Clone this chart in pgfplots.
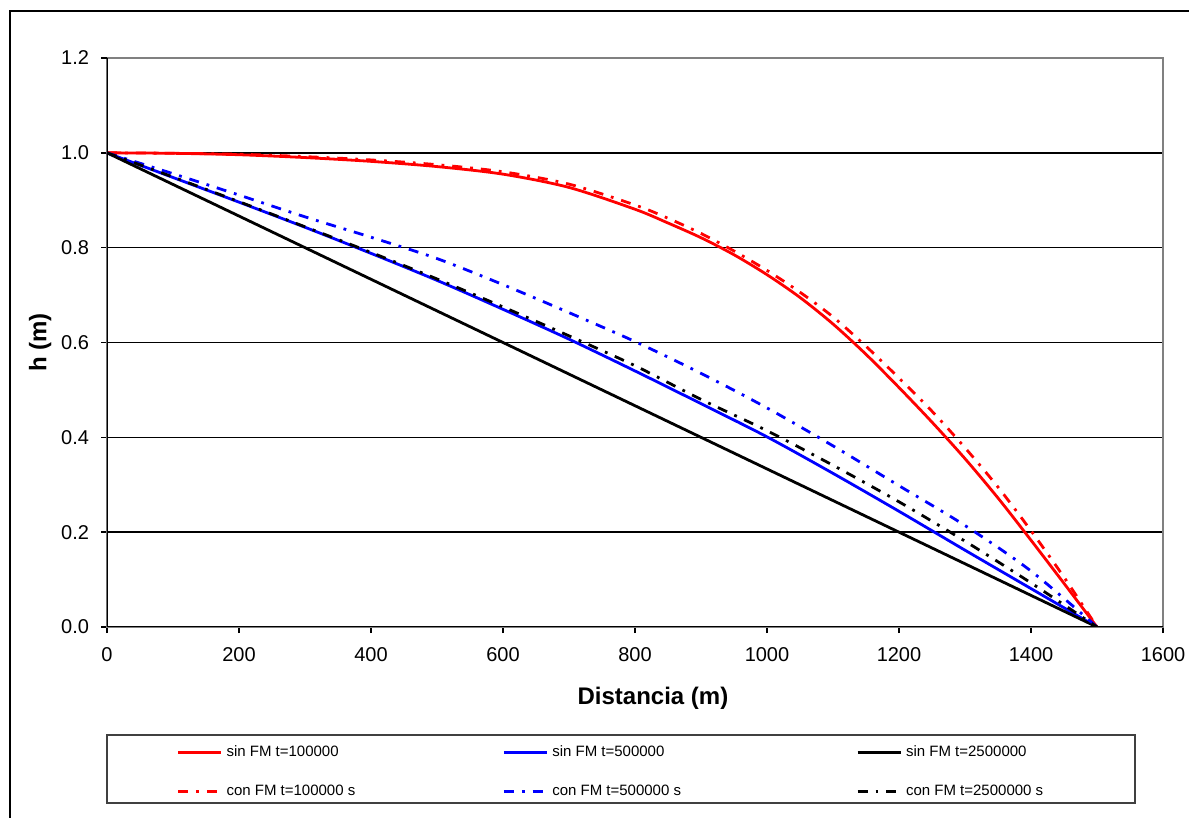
\documentclass[border=0pt]{standalone}
\usepackage{fontspec}
\setmainfont{Liberation Sans}
\usepackage{pgfplots}
\pgfplotsset{compat=1.18}
\pgfplotsset{dd/.style={dash pattern=on 5bp off 4bp on 1.4bp off 4bp}}
\newcommand{\colA}[1]{\makebox[136bp][l]{#1}}
\newcommand{\colB}[1]{\makebox[150bp][l]{#1}}

\begin{document}
\begin{tikzpicture}
\useasboundingbox (0,0) rectangle (594.5bp,409bp);
\draw[line width=1.25bp] (5bp,-2bp) -- (5bp,403.5bp) -- (597bp,403.5bp);
\begin{axis}[
  at={(53.5bp,95.5bp)}, anchor=south west,
  scale only axis, width=528bp, height=284.5bp,
  xmin=0, xmax=1600, ymin=0, ymax=1.2,
  xtick={0,200,...,1600},
  ytick={0,0.2,0.4,0.6,0.8,1.0},
  yticklabels={0.0,0.2,0.4,0.6,0.8,1.0},
  extra y ticks={1.2}, extra y tick labels={1.2},
  extra y tick style={grid=none},
  ymajorgrids, major grid style={black, line width=0.7bp},
  tick align=outside, major tick length=3bp,
  xtick pos=left, ytick pos=left,
  tick style={black, line width=0.7bp},
  axis line style={gray, line width=0.8bp},
  /pgf/number format/1000 sep={},
  /pgf/number format/assume math mode=true,
  tick label style={font=\fontsize{10bp}{12bp}\selectfont},
  yticklabel style={xshift=-2.5bp},
  xticklabel style={yshift=-3.5bp},
  xlabel={Distancia (m)}, ylabel={h (m)},
  xlabel style={font=\fontsize{12bp}{14bp}\selectfont\bfseries,
    at={(axis description cs:0.517,-0.125)}, anchor=center},
  ylabel style={font=\fontsize{12bp}{14bp}\selectfont\bfseries,
    at={(axis description cs:-0.0634,0.5)}, anchor=center},
  legend columns=3, legend cell align=left,
  legend style={draw=none, fill=none, at={(0.4782,-0.2549)}, anchor=center,
    font=\fontsize{7.5bp}{9bp}\selectfont, row sep=8.5bp,
    /tikz/every even column/.append style={column sep=0bp}},
  legend image code/.code={\draw[#1] (0bp,0bp) -- (21.5bp,0bp);},
  every axis plot/.append style={line width=1.4bp},
]
% sin FM t=100000
\addplot[red, smooth] table {
0 1.000
100 0.999
200 0.996
300 0.990
400 0.982
500 0.971
600 0.955
700 0.927
800 0.881
850 0.852
900 0.821
950 0.785
1000 0.743
1050 0.695
1100 0.639
1150 0.575
1200 0.505
1250 0.432
1300 0.355
1350 0.272
1400 0.183
1450 0.092
1500 0.000
};
\addlegendentry{\colA{sin FM t=100000}}
% sin FM t=500000
\addplot[blue, smooth] table {
0 1.000
100 0.948
200 0.896
300 0.843
400 0.788
500 0.731
600 0.670
700 0.607
800 0.540
900 0.471
1000 0.401
1100 0.324
1200 0.244
1300 0.162
1400 0.081
1500 0.000
};
\addlegendentry{\colB{sin FM t=500000}}
% sin FM t=2500000
\addplot[black] table {
0 1.000
1500 0.000
};
\addlegendentry{sin FM t=2500000}
% con FM t=100000 s
\addplot[red, dd, smooth] table {
0 1.000
100 0.999
200 0.997
300 0.992
400 0.985
500 0.975
600 0.960
700 0.934
800 0.890
850 0.862
900 0.830
950 0.793
1000 0.752
1050 0.706
1100 0.654
1150 0.592
1200 0.525
1250 0.455
1300 0.378
1350 0.295
1400 0.203
1450 0.105
1500 0.000
};
\addlegendentry{\colA{con FM t=100000 s}}
% con FM t=500000 s
\addplot[blue, dd, smooth] table {
0 1.000
100 0.956
200 0.911
300 0.865
400 0.822
500 0.777
600 0.722
700 0.663
800 0.602
900 0.535
1000 0.462
1100 0.382
1200 0.298
1300 0.214
1400 0.118
1500 0.000
};
\addlegendentry{\colB{con FM t=500000 s}}
% con FM t=2500000 s
\addplot[black, dd, smooth] table {
0 1.000
100 0.949
200 0.897
300 0.844
400 0.790
500 0.734
600 0.675
700 0.614
800 0.551
900 0.480
1000 0.414
1100 0.341
1200 0.264
1300 0.181
1400 0.093
1500 0.000
};
\addlegendentry{con FM t=2500000 s}
\draw[black, line width=0.8bp] (rel axis cs:0,1) -- (rel axis cs:0,0) -- (rel axis cs:1,0);
\end{axis}
\draw[line width=0.8bp, black!75] (53.5bp,7.5bp) rectangle (567.5bp,41.5bp);
\end{tikzpicture}
\end{document}
